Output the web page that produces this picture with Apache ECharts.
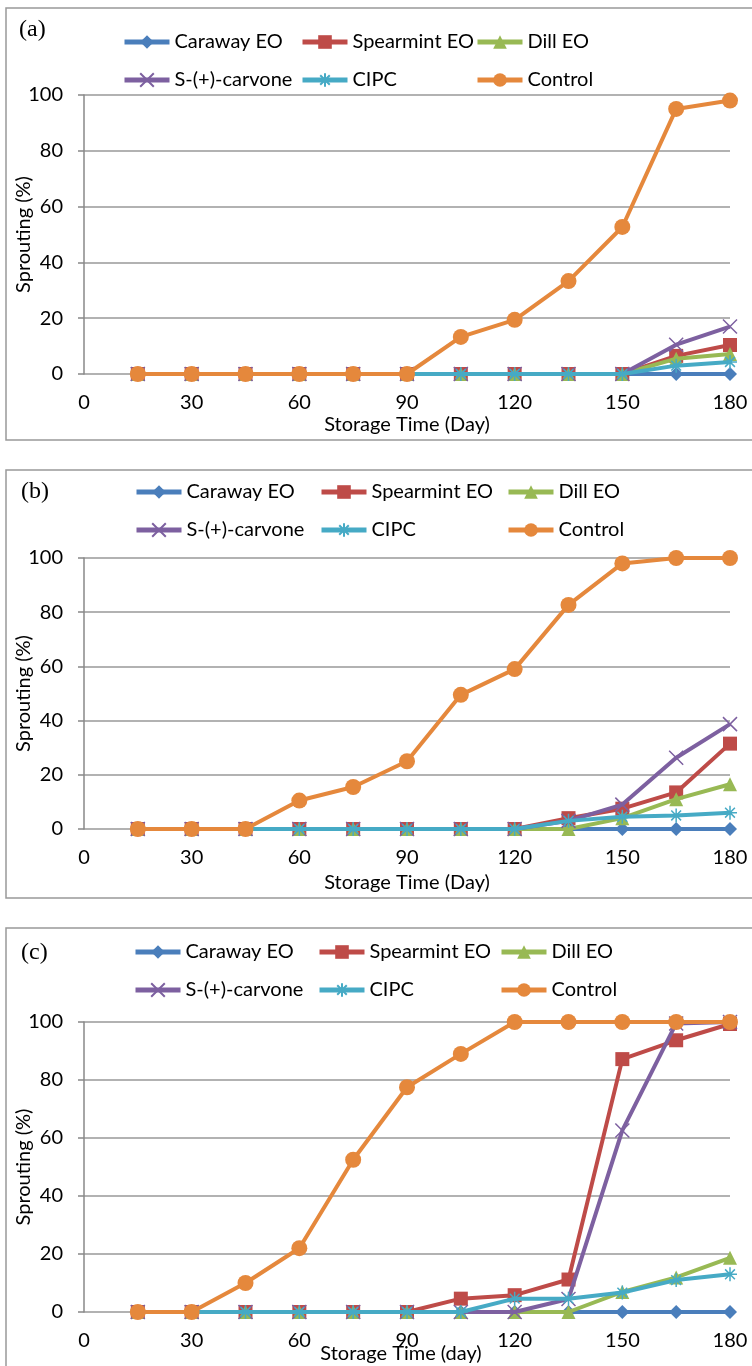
<!DOCTYPE html>
<html>
<head>
<meta charset="utf-8">
<script src="https://cdn.jsdelivr.net/npm/echarts@6/dist/echarts.min.js"></script>
<style>html,body{margin:0;padding:0;background:#fff}#c{width:752px;height:1366px}</style>
</head>
<body>
<div id="c"></div>
<script>
// ---- data ----
const days = [15, 30, 45, 60, 75, 90, 105, 120, 135, 150, 165, 180];
const seriesNames = ['Caraway EO', 'Spearmint EO', 'Dill EO', 'S-(+)-carvone', 'CIPC', 'Control'];
const xTicks = [0, 30, 60, 90, 120, 150, 180];
const yTicks = [0, 20, 40, 60, 80, 100];

// panel (a)
const a_caraway   = [0, 0, 0, 0, 0, 0, 0, 0, 0, 0, 0, 0];
const a_spearmint = [0, 0, 0, 0, 0, 0, 0, 0, 0, 0, 6.5, 10.4];
const a_dill      = [0, 0, 0, 0, 0, 0, 0, 0, 0, 0, 5.5, 7.2];
const a_carvone   = [0, 0, 0, 0, 0, 0, 0, 0, 0, 0, 10.5, 17];
const a_cipc      = [0, 0, 0, 0, 0, 0, 0, 0, 0, 0, 3, 4.3];
const a_control   = [0, 0, 0, 0, 0, 0, 13.3, 19.4, 33.3, 52.7, 95, 98];

// panel (b)
const b_caraway   = [0, 0, 0, 0, 0, 0, 0, 0, 0, 0, 0, 0];
const b_spearmint = [0, 0, 0, 0, 0, 0, 0, 0, 4, 7.5, 13.5, 31.5];
const b_dill      = [0, 0, 0, 0, 0, 0, 0, 0, 0, 4, 11, 16.5];
const b_carvone   = [0, 0, 0, 0, 0, 0, 0, 0, 3, 9, 26.3, 38.7];
const b_cipc      = [0, 0, 0, 0, 0, 0, 0, 0, 3, 4.5, 5, 6];
const b_control   = [0, 0, 0, 10.5, 15.5, 25, 49.5, 59, 82.7, 98, 100, 100];

// panel (c)
const c_caraway   = [0, 0, 0, 0, 0, 0, 0, 0, 0, 0, 0, 0];
const c_spearmint = [0, 0, 0, 0, 0, 0, 4.6, 5.8, 11.2, 87.2, 93.7, 99.3];
const c_dill      = [0, 0, 0, 0, 0, 0, 0, 0, 0, 6.9, 11.9, 18.7];
const c_carvone   = [0, 0, 0, 0, 0, 0, 0, 0, 4.5, 62.6, 99.5, 100];
const c_cipc      = [0, 0, 0, 0, 0, 0, 0, 4.6, 4.6, 6.7, 11, 13];
const c_control   = [0, 0, 10, 22, 52.5, 77.5, 89, 100, 100, 100, 100, 100];

const panelLabels = ['(a)', '(b)', '(c)'];
const xTitles = ['Storage Time (Day)', 'Storage Time (Day)', 'Storage Time (day)'];
const yTitle = 'Sprouting (%)';

const panelData = [
  [a_caraway, a_spearmint, a_dill, a_carvone, a_cipc, a_control],
  [b_caraway, b_spearmint, b_dill, b_carvone, b_cipc, b_control],
  [c_caraway, c_spearmint, c_dill, c_carvone, c_cipc, c_control]
];

// ---- styles ----
const FONT = 'Lato';
const FS = 20;
const colors = ['#4A7EBB', '#BE4B48', '#98B954', '#7D60A0', '#46AAC5', '#E5883C'];
const X_PATH = 'path://M0,0L10,10M10,0L0,10';
const AST_PATH = 'path://M5,0L5,10M0,5L10,5M1.5,1.5L8.5,8.5M8.5,1.5L1.5,8.5';
const symbols = ['diamond', 'rect', 'triangle', X_PATH, AST_PATH, 'circle'];
const symSizes = [14, 14, 14, 14, 14, 16];

const layout = [
  {top: 95, height: 279, nameGap: 41, box: [6, 8, 760, 432], lab: [33, 32],
   legCols: [122, 300, 475], legRows: [42, 80]},
  {top: 558, height: 271, nameGap: 44, box: [6, 470, 760, 428], lab: [35, 494],
   legCols: [134, 319, 506], legRows: [492, 529]},
  {top: 1022, height: 290, nameGap: 32, box: [6, 928, 760, 460], lab: [35, 955],
   legCols: [133, 317, 499], legRows: [952, 990], xNameShift: -6}
];

const grids = [], xAxes = [], yAxes = [], series = [], legends = [], graphics = [];

layout.forEach((L, p) => {
  grids.push({left: 84, right: 22, top: L.top, height: L.height,
    containLabel: false, outerBoundsMode: 'none'});
  xAxes.push({
    type: 'value', gridIndex: p, min: 0, max: 180, interval: 30,
    name: xTitles[p], nameLocation: 'middle', nameGap: L.nameGap, nameMoveOverlap: false,
    nameTextStyle: {fontFamily: FONT, fontSize: FS, color: '#000',
      padding: [0, 0, 0, L.xNameShift ? -2 * -L.xNameShift : 0]},
    axisLine: {show: false}, axisTick: {show: false}, splitLine: {show: false},
    axisLabel: {fontFamily: FONT, fontSize: FS, color: '#000', margin: 19,
      formatter: v => xTicks.includes(v) ? String(v) : ''}
  });
  yAxes.push({
    type: 'value', gridIndex: p, min: 0, max: 100, interval: 20,
    name: yTitle, nameLocation: 'middle', nameGap: 50, nameRotate: 90, nameMoveOverlap: false,
    nameTextStyle: {fontFamily: FONT, fontSize: FS, color: '#000'},
    axisLine: {show: true, lineStyle: {color: '#888', width: 1.5}},
    axisTick: {show: true, length: 6, lineStyle: {color: '#888', width: 1.5}},
    splitLine: {show: true, lineStyle: {color: '#999', width: 1.5}},
    axisLabel: {fontFamily: FONT, fontSize: FS, color: '#000', margin: 21,
      formatter: v => yTicks.includes(v) ? String(v) : ''}
  });
  seriesNames.forEach((nm, i) => {
    const stroked = (i === 3 || i === 4);
    series.push({
      type: 'line', name: nm, xAxisIndex: p, yAxisIndex: p,
      data: days.map((d, k) => [d, panelData[p][i][k]]),
      symbol: symbols[i], symbolSize: symSizes[i], showSymbol: true,
      lineStyle: {color: colors[i], width: 4},
      itemStyle: stroked
        ? {color: 'rgba(0,0,0,0)', borderColor: colors[i], borderWidth: 1.5}
        : {color: colors[i], borderWidth: 0},
      emphasis: {disabled: true},
      animation: false, z: 2 + i
    });
  });
  // legends by column
  const cols = [[0, 3], [1, 4], [2, 5]];
  cols.forEach((col, ci) => {
    legends.push({
      orient: 'vertical', left: L.legCols[ci], top: L.legRows[0] - 11,
      padding: 0, itemGap: 16, itemWidth: 45, itemHeight: 17,
      data: col.map(i => seriesNames[i]),
      lineStyle: {width: 5},
      textStyle: {fontFamily: FONT, fontSize: FS, color: '#000', lineHeight: 22},
      selectedMode: false
    });
  });
  graphics.push({
    type: 'rect', silent: true, z: -1,
    shape: {x: L.box[0], y: L.box[1], width: L.box[2], height: L.box[3]},
    style: {fill: null, stroke: '#999', lineWidth: 1.5}
  });
  graphics.push({
    type: 'text', left: L.lab[0] - 14, top: L.lab[1] - 14,
    style: {text: panelLabels[p], fontFamily: 'Liberation Serif', fontSize: 24, fill: '#000'}
  });
});

const chart = echarts.init(document.getElementById('c'), null, {renderer: 'canvas'});
chart.setOption({
  animation: false,
  backgroundColor: '#fff',
  grid: grids, xAxis: xAxes, yAxis: yAxes, series: series,
  legend: legends, graphic: graphics
});
</script>
</body>
</html>
